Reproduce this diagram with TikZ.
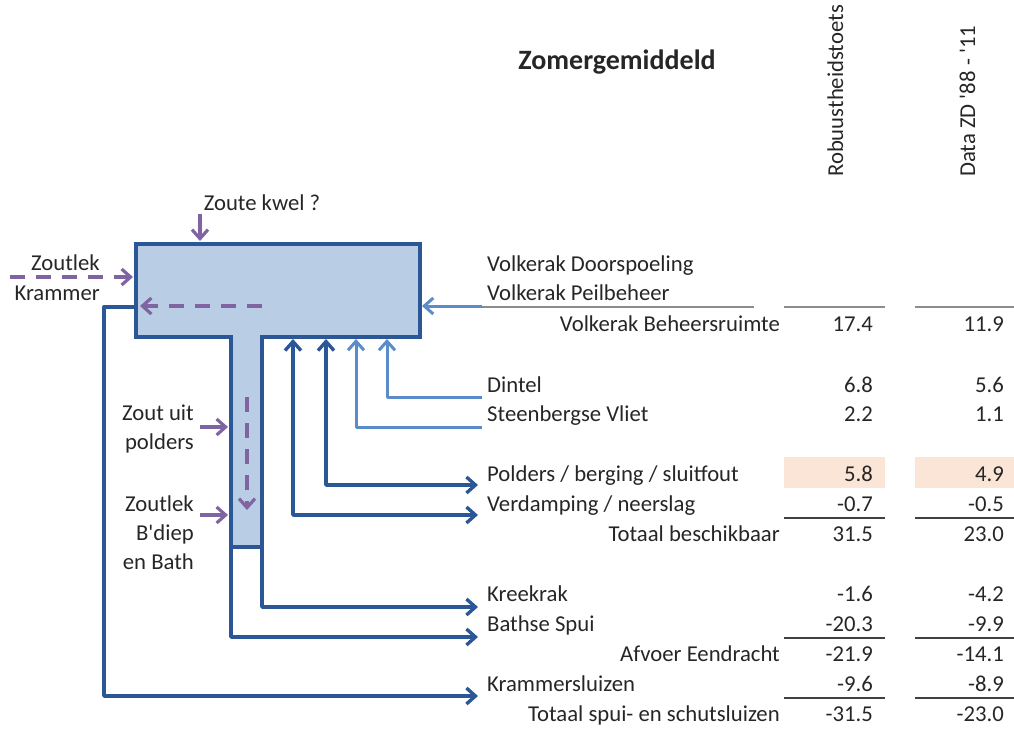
\documentclass[tikz,border=0pt]{standalone}
\usepackage{fontspec}
\setmainfont{Carlito}[Ligatures=TeXOff]
\usetikzlibrary{arrows.meta}
\definecolor{donkerblauw}{HTML}{2C5796}
\definecolor{lichtblauw}{HTML}{5A8BCB}
\definecolor{vulblauw}{HTML}{B9CDE5}
\definecolor{paars}{HTML}{8064A2}
\definecolor{zalm}{HTML}{FBE5D6}
\definecolor{tekstgrijs}{HTML}{262626}

\begin{document}
\begin{tikzpicture}[x=1pt,y=-1pt,
	tekst/.style={font=\fontsize{22.7}{27}\selectfont, text=tekstgrijs, inner sep=0pt, anchor=base west},
	rechts/.style={tekst, anchor=base east},
	kop/.style={tekst, anchor=base west, rotate=90},
	donker/.style={draw=donkerblauw, line width=3.4pt, line join=round},
	licht/.style={draw=lichtblauw, line width=3pt, line join=round},
	zout/.style={draw=paars, line width=3.2pt},
	streep/.style={dash pattern=on 15pt off 11pt},
	pijl/.style={-{Straight Barb[length=9pt,width=16pt]}},
	tweepijl/.style={{Straight Barb[length=9pt,width=16pt]}-{Straight Barb[length=9pt,width=16pt]}},
	regel/.style={draw=black!75, line width=2.2pt}]
		\useasboundingbox (0,0) rectangle (1014,729);
		
		% Bekken (T-vorm)
		\filldraw [fill=vulblauw, draw=donkerblauw, line width=3.4pt] (136,244) -- (420,244) -- (420,337) -- (262,337) -- (262,547) -- (231,547) -- (231,337) -- (136,337) -- cycle;
		
		% Titel en kolomkoppen
		\node[tekst, anchor=base, font=\fontsize{28}{32}\selectfont\bfseries] (titel) at (617,69) {Zomergemiddeld};
		\node[kop] (kopRobuust) at (843,177) {Robuustheidstoets};
		\node[kop] (kopData) at (975,177) {Data ZD '88 - '11};
		
		% Eindpunten
		\coordinate (bKram) at (136,307);
		\coordinate (eKram) at (478,696);
		\coordinate (bBath) at (231,547);
		\coordinate (eBath) at (478,637);
		\coordinate (bKreek) at (262,547);
		\coordinate (eKreek) at (478,607);
		\coordinate (bVerd) at (293,339);
		\coordinate (eVerd) at (478,515);
		\coordinate (bPold) at (326,339);
		\coordinate (ePold) at (478,485);
		\coordinate (bSteen) at (356,339);
		\coordinate (eSteen) at (482,427);
		\coordinate (bDint) at (387,339);
		\coordinate (eDint) at (482,397);
		\coordinate (bVolk) at (422,306);
		\coordinate (eVolk) at (482,306);
		
		% Afvoer en aanvoer
		\draw[donker, pijl] (bKram) -- (104,307) |- (eKram);
		\draw[donker, pijl] (bBath) |- (eBath);
		\draw[donker, pijl] (bKreek) |- (eKreek);
		\draw[donker, tweepijl] (bVerd) |- (eVerd);
		\draw[donker, tweepijl] (bPold) |- (ePold);
		\draw[licht, pijl] (eSteen) -| (bSteen);
		\draw[licht, pijl] (eDint) -| (bDint);
		\draw[licht, pijl] (eVolk) -- (bVolk);
		
		% Zout
		\node[rechts] (zoutlekK) at (100,270) {Zoutlek};
		\node[rechts] (krammer) at (100,300) {Krammer};
		\node[tekst, anchor=base] (kwel) at (262,210) {Zoute kwel ?};
		\node[rechts] (zoutUit) at (194,420) {Zout uit};
		\node[rechts] (polderTxt) at (194,449) {polders};
		\node[rechts] (zoutlekB) at (194,511) {Zoutlek};
		\node[rechts] (bdiep) at (194,540) {B'diep};
		\node[rechts] (enBath) at (194,569) {en Bath};
		\coordinate (zk1) at (10,277);
		\coordinate (zk2) at (133,277);
		\coordinate (zi1) at (262,306);
		\coordinate (zi2) at (140,306);
		\coordinate (kw1) at (200,214);
		\coordinate (kw2) at (200,241);
		\coordinate (zs1) at (247,397);
		\coordinate (zs2) at (247,510);
		\coordinate (zp1) at (200,427);
		\coordinate (zp2) at (228,427);
		\coordinate (zb1) at (200,515);
		\coordinate (zb2) at (228,515);
		\draw[zout, streep, pijl] (zk1) -- (zk2);
		\draw[zout, streep, pijl] (zi1) -- (zi2);
		\draw[zout, streep, pijl] (zs1) -- (zs2);
		\draw[zout, pijl] (kw1) -- (kw2);
		\draw[zout, pijl] (zp1) -- (zp2);
		\draw[zout, pijl] (zb1) -- (zb2);
		
		% Tabel
		\fill[zalm] (784,457) rectangle (885,488);
		\fill[zalm] (915,457) rectangle (1014,488);
		\draw[regel, draw=black!45] (482,307) -- (754,307);
		\draw[regel, draw=black!45] (784,307) -- (885,307);
		\draw[regel, draw=black!45] (915,307) -- (1014,307);
		\draw[regel] (784,518) -- (885,518);
		\draw[regel] (915,518) -- (1014,518);
		\draw[regel] (784,638) -- (885,638);
		\draw[regel] (915,638) -- (1014,638);
		\draw[regel] (784,698) -- (885,698);
		\draw[regel] (915,698) -- (1014,698);
		
		\node[tekst] (volkDoor) at (487,271) {Volkerak Doorspoeling};
		\node[tekst] (volkPeil) at (487,300) {Volkerak Peilbeheer};
		\node[rechts] (volkBeh) at (780,331) {Volkerak Beheersruimte};
		\node[tekst] (dintel) at (487,392) {Dintel};
		\node[tekst] (steenb) at (487,421) {Steenbergse Vliet};
		\node[tekst] (polders) at (487,481) {Polders / berging / sluitfout};
		\node[tekst] (verdamp) at (487,511) {Verdamping / neerslag};
		\node[rechts] (totBesch) at (780,541) {Totaal beschikbaar};
		\node[tekst] (kreekrak) at (487,601) {Kreekrak};
		\node[tekst] (bathse) at (487,631) {Bathse Spui};
		\node[rechts] (afvoer) at (780,661) {Afvoer Eendracht};
		\node[tekst] (kramSl) at (487,691) {Krammersluizen};
		\node[rechts] (totSpui) at (780,721) {Totaal spui- en schutsluizen};
		
		\node[rechts] (volkBehA) at (873,331) {17.4};
		\node[rechts] (volkBehB) at (1004,331) {11.9};
		\node[rechts] (dintelA) at (873,392) {6.8};
		\node[rechts] (dintelB) at (1004,392) {5.6};
		\node[rechts] (steenbA) at (873,421) {2.2};
		\node[rechts] (steenbB) at (1004,421) {1.1};
		\node[rechts] (poldersA) at (873,481) {5.8};
		\node[rechts] (poldersB) at (1004,481) {4.9};
		\node[rechts] (verdampA) at (873,511) {-0.7};
		\node[rechts] (verdampB) at (1004,511) {-0.5};
		\node[rechts] (totBeschA) at (873,541) {31.5};
		\node[rechts] (totBeschB) at (1004,541) {23.0};
		\node[rechts] (kreekrakA) at (873,601) {-1.6};
		\node[rechts] (kreekrakB) at (1004,601) {-4.2};
		\node[rechts] (bathseA) at (873,631) {-20.3};
		\node[rechts] (bathseB) at (1004,631) {-9.9};
		\node[rechts] (afvoerA) at (873,661) {-21.9};
		\node[rechts] (afvoerB) at (1004,661) {-14.1};
		\node[rechts] (kramSlA) at (873,691) {-9.6};
		\node[rechts] (kramSlB) at (1004,691) {-8.9};
		\node[rechts] (totSpuiA) at (873,721) {-31.5};
		\node[rechts] (totSpuiB) at (1004,721) {-23.0};
\end{tikzpicture}
\end{document}
